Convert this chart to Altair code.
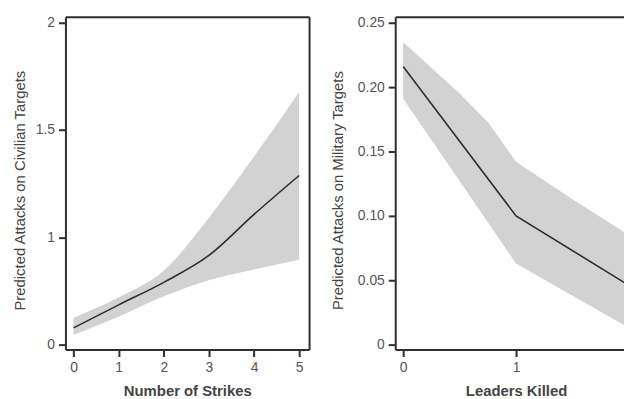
import altair as alt
import pandas as pd

# ---- data ----
strikes = [0, 1, 2, 3, 4, 5]
civ_fit = [0.156, 0.37, 0.58, 0.83, 1.106, 1.287]
civ_lo = [0.09, 0.26, 0.45, 0.60, 0.70, 0.79]
civ_hi = [0.25, 0.44, 0.69, 1.09, 1.375, 1.676]

leaders = [0, 1, 2]
mil_fit = [0.216, 0.100, 0.046]
band_x = [0, 0.25, 0.5, 0.75, 1, 1.5, 2]
mil_lo = [0.191, 0.159, 0.127, 0.095, 0.063, 0.038, 0.013]
mil_hi = [0.235, 0.215, 0.195, 0.173, 0.142, 0.113, 0.085]

# the left axis of the original is drawn with 0-1 compressed relative to 1-2:
# ticks 0, 1, 1.5, 2 are equally spaced
civ_yticks = [0, 1, 1.5, 2]
mil_yticks = [0, 0.05, 0.10, 0.15, 0.20, 0.25]
mil_xticks = [0, 1]

FONT = "Liberation Sans"
INK = "#2e2e2e"
LABEL = "#555555"
TITLE = "#444444"
BAND = "#d2d2d2"

civ = pd.DataFrame({"x": strikes, "fit": civ_fit, "lo": civ_lo, "hi": civ_hi})
mil_line = pd.DataFrame({"x": leaders, "fit": mil_fit})
mil_band = pd.DataFrame({"x": band_x, "lo": mil_lo, "hi": mil_hi})

W1, W2, H = 246, 231, 336

common = dict(domainColor=INK, domainWidth=2, tickColor=INK, tickWidth=2, tickSize=7,
              labelFont=FONT, labelFontSize=14, labelColor=LABEL, labelPadding=4,
              titleFont=FONT, titleFontSize=15, titleColor=TITLE, grid=False)
frame = dict(labels=False, ticks=False, domain=True, domainColor=INK, domainWidth=2,
             title=None, grid=False)


def warp(f):
    return f"datum.{f} <= 1 ? datum.{f} : 2 * datum.{f} - 1"


civ_u_ticks = [v if v <= 1 else 2 * v - 1 for v in civ_yticks]

# ---- left panel ----
x1 = alt.Scale(domain=[-0.18, 5.22], nice=False, zero=False)
y1 = alt.Scale(domain=[-0.046, 3.051], nice=False, zero=False)

civ_base = alt.Chart(civ).transform_calculate(
    u_fit=warp("fit"), u_lo=warp("lo"), u_hi=warp("hi")
)

civ_area = civ_base.mark_area(color=BAND, opacity=1, interpolate="monotone").encode(
    x=alt.X("x:Q", scale=x1, axis=alt.Axis(values=strikes, format="d", title="Number of Strikes",
                                          titleFontWeight="bold", titleY=41, titleBaseline="middle",
                                          **common)),
    y=alt.Y("u_lo:Q", scale=y1, axis=alt.Axis(values=civ_u_ticks,
                                             labelExpr="format(datum.value <= 1 ? datum.value : (datum.value + 1) / 2, '~g')",
                                             title="Predicted Attacks on Civilian Targets",
                                             titleFontWeight="normal", titleX=-46, titleY=175,
                                             titleBaseline="middle", **common)),
    y2="u_hi:Q",
)
civ_ln = civ_base.mark_line(color=INK, strokeWidth=1.6, interpolate="monotone").encode(
    x=alt.X("x:Q", scale=x1, axis=alt.Axis(orient="top", **frame)),
    y=alt.Y("u_fit:Q", scale=y1, axis=alt.Axis(orient="right", **frame)),
)
left = alt.layer(civ_area, civ_ln).resolve_axis(x="independent", y="independent").properties(
    width=W1, height=H)

# ---- right panel ----
x2 = alt.Scale(domain=[-8 / 114, (W2 - 8) / 114], nice=False, zero=False)
y2 = alt.Scale(domain=[-5 / 1300, 0.25 + 6 / 1300], nice=False, zero=False)

mil_area = alt.Chart(mil_band).mark_area(color=BAND, opacity=1, clip=True).encode(
    x=alt.X("x:Q", scale=x2, axis=alt.Axis(values=mil_xticks, format="d", title="Leaders Killed",
                                          titleFontWeight="bold", titleX=122, titleY=41,
                                          titleBaseline="middle", **common)),
    y=alt.Y("lo:Q", scale=y2, axis=alt.Axis(values=mil_yticks,
                                           labelExpr="datum.value == 0 ? '0' : format(datum.value, '.2f')",
                                           title="Predicted Attacks on Military Targets",
                                           titleFontWeight="normal", titleX=-58, titleY=175,
                                           titleBaseline="middle", **common)),
    y2="hi:Q",
)
mil_ln = alt.Chart(mil_line).mark_line(color=INK, strokeWidth=1.6, clip=True).encode(
    x=alt.X("x:Q", scale=x2, axis=alt.Axis(orient="top", **frame)),
    y=alt.Y("fit:Q", scale=y2),
)
right = alt.layer(mil_area, mil_ln).resolve_axis(x="independent").properties(width=W2, height=H)

chart = alt.hconcat(left, right, spacing=22).properties(
    padding={"left": 5, "top": 5, "right": 0, "bottom": 0}, background="white"
).configure_view(stroke=None)

chart.save("out.html", embed_options={"renderer": "svg", "actions": False})
